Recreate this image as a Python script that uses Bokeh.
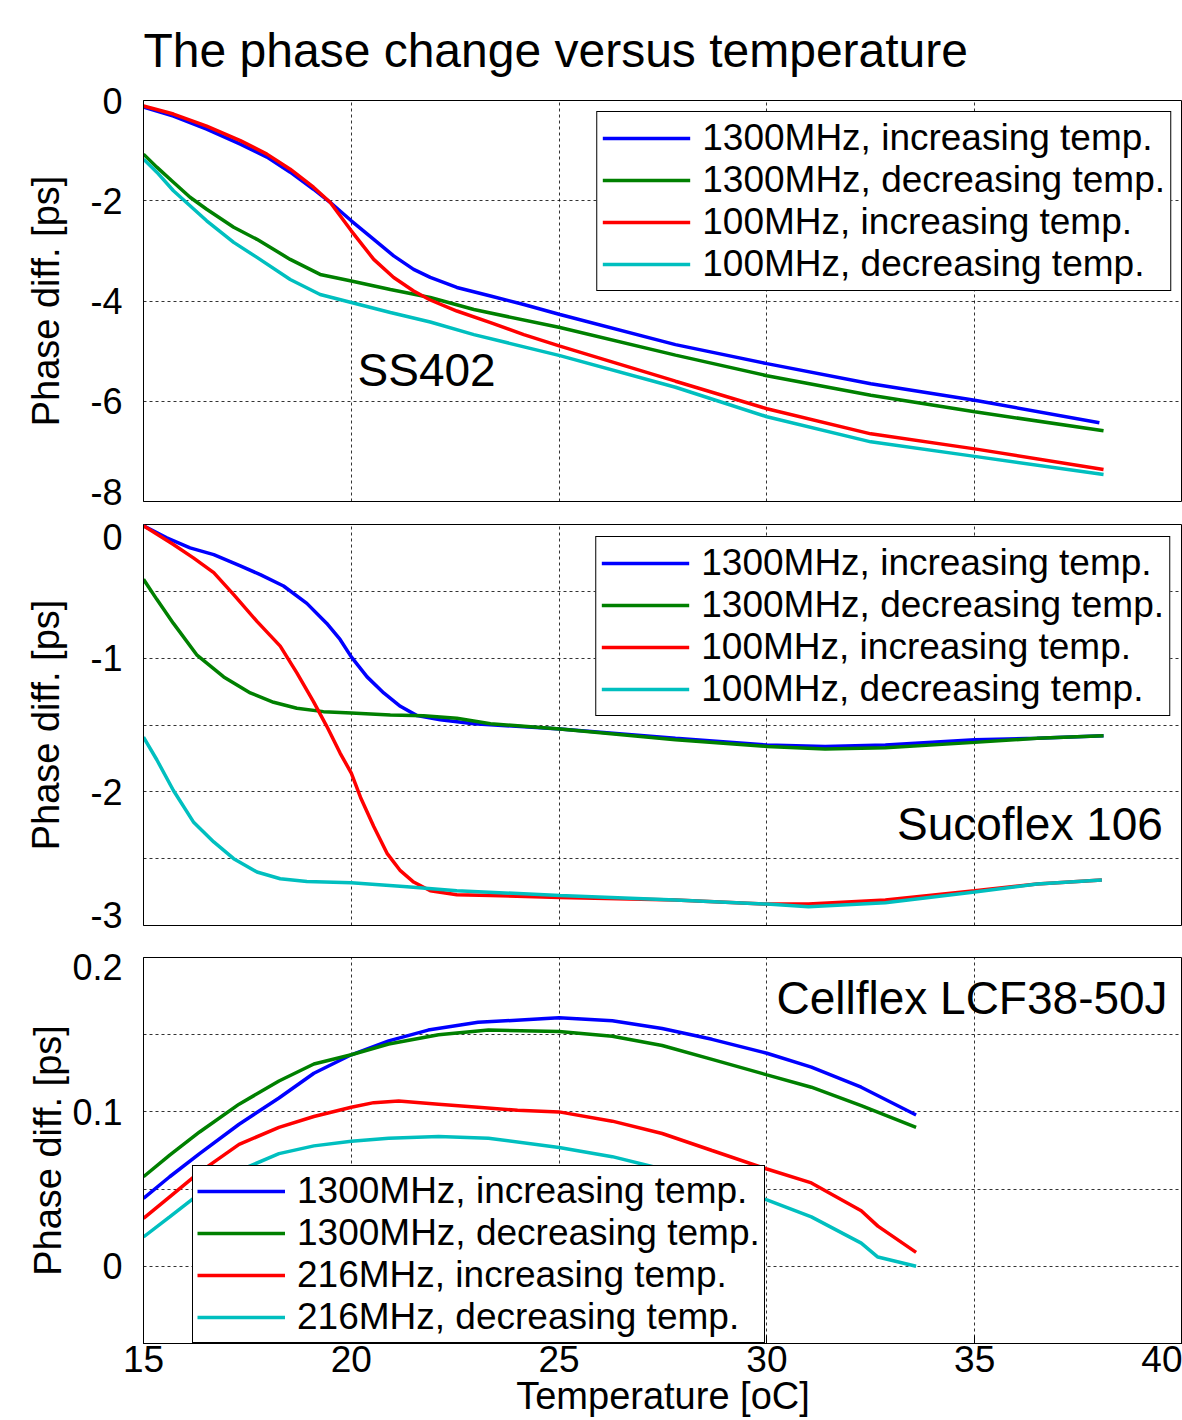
from bokeh.plotting import figure
from bokeh.layouts import column
from bokeh.models import Range1d, FixedTicker, Legend, LegendItem, Label
from bokeh.embed import file_html
from bokeh.resources import INLINE

FONT = "Liberation Sans"

# ---------------- data ----------------
title_text = "The phase change versus temperature"
x_label = "Temperature [oC]"
y_label = "Phase diff. [ps]"
x_ticks = [15, 20, 25, 30, 35, 40]
x_tick_labels = ["15", "20", "25", "30", "35", "40"]

colors = ["#0000ff", "#008000", "#ff0000", "#00bfbf"]

# Panel 1 : SS402
ss_names = ["1300MHz, increasing temp.", "1300MHz, decreasing temp.",
            "100MHz, increasing temp.", "100MHz, decreasing temp."]
ss_yticks = [-8, -6, -4, -2, 0]
ss_ylabels = ["-8", "-6", "-4", "-2", "0"]
ss_inc1300_x = [15.0, 15.72, 16.52, 17.33, 17.97, 18.53, 19.09, 19.49, 20.0, 20.54, 21.02, 21.5,
                21.9, 22.54, 23.35, 24.15, 25.02, 27.8, 30.0, 32.5, 35.0, 38.0]
ss_inc1300_y = [-0.13, -0.31, -0.57, -0.87, -1.13, -1.43, -1.77, -2.03, -2.40, -2.77, -3.10, -3.37,
                -3.53, -3.73, -3.90, -4.07, -4.27, -4.87, -5.25, -5.65, -5.98, -6.43]
ss_dec1300_x = [15.0, 15.32, 15.72, 16.12, 16.52, 17.17, 17.73, 18.53, 19.25, 20.0, 20.94, 21.9,
                22.95, 25.02, 27.8, 30.0, 32.5, 35.0, 38.1]
ss_dec1300_y = [-1.07, -1.33, -1.63, -1.93, -2.17, -2.53, -2.77, -3.17, -3.47, -3.60, -3.77, -3.93,
                -4.17, -4.53, -5.08, -5.49, -5.88, -6.21, -6.59]
ss_inc100_x = [15.0, 15.72, 16.52, 17.33, 17.97, 18.53, 19.09, 19.49, 20.0, 20.54, 21.02, 21.5,
               21.9, 22.54, 23.35, 24.15, 25.02, 27.8, 30.0, 32.5, 35.0, 38.1]
ss_inc100_y = [-0.11, -0.27, -0.51, -0.80, -1.07, -1.37, -1.73, -2.03, -2.60, -3.17, -3.53, -3.80,
               -3.98, -4.20, -4.43, -4.67, -4.90, -5.60, -6.15, -6.65, -6.95, -7.36]
ss_dec100_x = [15.0, 15.32, 15.72, 16.12, 16.52, 17.17, 17.73, 18.53, 19.25, 20.0, 20.94, 21.9,
               22.95, 25.02, 27.8, 30.0, 32.5, 35.0, 38.1]
ss_dec100_y = [-1.17, -1.43, -1.80, -2.10, -2.40, -2.83, -3.13, -3.57, -3.87, -4.03, -4.23, -4.42,
               -4.67, -5.09, -5.72, -6.31, -6.81, -7.10, -7.46]

# Panel 2 : Sucoflex 106
su_names = ss_names
su_yticks = [-3, -2.5, -2, -1.5, -1, -0.5, 0]
su_ylabels = ["-3", "", "-2", "", "-1", "", "0"]
su_inc1300_x = [15.0, 15.56, 16.12, 16.69, 17.33, 17.81, 18.37, 18.93, 19.41, 19.73, 20.0, 20.38,
                20.78, 21.18, 21.58, 22.14, 22.95, 25.02, 27.8, 30.0, 31.4, 32.85, 35.0, 36.5, 38.1]
su_inc1300_y = [-0.01, -0.10, -0.175, -0.225, -0.31, -0.375, -0.46, -0.59, -0.74, -0.86, -0.99, -1.14,
                -1.26, -1.36, -1.43, -1.46, -1.49, -1.53, -1.60, -1.65, -1.66, -1.65, -1.61, -1.60, -1.58]
su_dec1300_x = [15.0, 15.32, 15.72, 16.28, 16.93, 17.57, 18.13, 18.69, 19.33, 20.0, 20.94, 21.74,
                22.54, 23.35, 25.02, 27.8, 30.0, 31.4, 32.85, 35.0, 36.5, 38.1]
su_dec1300_y = [-0.41, -0.56, -0.74, -0.975, -1.14, -1.26, -1.33, -1.375, -1.40, -1.41, -1.425, -1.43,
                -1.45, -1.49, -1.53, -1.61, -1.66, -1.68, -1.67, -1.63, -1.60, -1.58]
su_inc100_x = [15.0, 15.72, 16.2, 16.69, 17.17, 17.73, 18.29, 18.69, 19.09, 19.41, 19.73, 20.0,
               20.22, 20.54, 20.86, 21.18, 21.5, 21.9, 22.54, 23.35, 25.02, 27.8, 30.0, 31.0,
               32.85, 35.0, 36.5, 38.06]
su_inc100_y = [-0.01, -0.15, -0.25, -0.36, -0.525, -0.725, -0.91, -1.11, -1.325, -1.51, -1.71, -1.86,
               -2.04, -2.26, -2.46, -2.59, -2.675, -2.74, -2.77, -2.775, -2.79, -2.81, -2.84, -2.84,
               -2.81, -2.74, -2.69, -2.66]
su_dec100_x = [15.0, 15.32, 15.72, 16.2, 16.69, 17.17, 17.73, 18.29, 18.93, 20.0, 21.34, 22.54,
               25.02, 27.8, 30.0, 31.0, 32.85, 35.0, 36.5, 38.06]
su_dec100_y = [-1.59, -1.76, -1.99, -2.225, -2.375, -2.50, -2.60, -2.65, -2.67, -2.68, -2.71, -2.74,
               -2.775, -2.81, -2.84, -2.86, -2.83, -2.75, -2.69, -2.66]

# Panel 3 : Cellflex LCF38-50J
ce_names = ["1300MHz, increasing temp.", "1300MHz, decreasing temp.",
            "216MHz, increasing temp.", "216MHz, decreasing temp."]
ce_yticks = [-0.05, 0, 0.05, 0.1, 0.15, 0.2]
ce_ylabels = ["", "0", "", "0.1", "", "0.2"]
ce_inc1300_x = [15.0, 15.63, 16.35, 17.3, 18.26, 19.1, 20.0, 20.9, 21.85, 23.05, 25.0, 26.28,
                27.48, 28.68, 30.0, 31.07, 32.27, 33.59]
ce_inc1300_y = [0.044, 0.058, 0.073, 0.092, 0.109, 0.125, 0.137, 0.146, 0.153, 0.158, 0.161, 0.159,
                0.154, 0.147, 0.138, 0.129, 0.116, 0.098]
ce_dec1300_x = [15.0, 15.63, 16.35, 17.3, 18.26, 19.1, 20.0, 20.9, 22.1, 23.3, 25.0, 26.28,
                27.48, 28.68, 30.0, 31.07, 32.27, 33.59]
ce_dec1300_y = [0.058, 0.072, 0.087, 0.105, 0.120, 0.131, 0.137, 0.144, 0.150, 0.153, 0.152, 0.149,
                0.143, 0.134, 0.124, 0.116, 0.104, 0.090]
ce_inc216_x = [15.0, 15.63, 16.35, 17.3, 18.26, 19.1, 20.0, 20.54, 21.14, 22.1, 23.05, 24.0,
               25.0, 26.28, 27.48, 28.68, 30.0, 31.07, 32.27, 32.67, 33.59]
ce_inc216_y = [0.031, 0.045, 0.061, 0.079, 0.090, 0.097, 0.103, 0.106, 0.107, 0.105, 0.103, 0.101,
               0.100, 0.094, 0.086, 0.075, 0.063, 0.054, 0.036, 0.026, 0.009]
ce_dec216_x = [15.0, 15.63, 16.35, 17.3, 18.26, 19.1, 20.0, 20.9, 22.1, 23.3, 25.0, 26.28,
               27.48, 28.68, 30.0, 31.07, 32.27, 32.67, 33.59]
ce_dec216_y = [0.019, 0.032, 0.047, 0.062, 0.073, 0.078, 0.081, 0.083, 0.084, 0.083, 0.077, 0.071,
               0.063, 0.053, 0.043, 0.032, 0.015, 0.006, 0.000]

# ---------------- plotting ----------------
xr = Range1d(15, 40)


def make_panel(height, top, bottom, yrange, yticks, ylabels, nudge, label_standoff):
    """nudge: {tick: pixels} - MATLAB draws the labels of edge ticks shifted inside the box."""
    p = figure(width=1182, height=height, x_range=xr, y_range=Range1d(*yrange),
               output_backend="svg", toolbar_location=None,
               min_border_left=143, min_border_right=0,
               min_border_top=top, min_border_bottom=bottom)
    frame_h = height - top - bottom
    per_px = (yrange[1] - yrange[0]) / frame_h
    label_pos = [t + nudge.get(t, 0) * per_px for t in yticks]
    p.background_fill_color = "white"
    p.border_fill_color = "white"
    p.outline_line_color = "black"
    p.outline_line_alpha = 1.0
    p.outline_line_width = 1
    p.xaxis.ticker = FixedTicker(ticks=x_ticks)
    p.xaxis.major_label_overrides = {t: l for t, l in zip(x_ticks, x_tick_labels)}
    # y axis: labels at (nudged) label positions, grid at the true tick values
    p.yaxis.ticker = FixedTicker(ticks=label_pos)
    p.yaxis.major_label_overrides = {pos: l for pos, l in zip(label_pos, ylabels)}
    p.ygrid.ticker = FixedTicker(ticks=yticks)
    for ax in (p.xaxis, p.yaxis):
        ax.axis_line_color = "black"
        ax.major_tick_out = 0
        ax.minor_tick_in = 0
        ax.minor_tick_out = 0
        ax.major_tick_line_color = "black"
        ax.major_label_text_font = FONT
        ax.major_label_text_color = "black"
        ax.axis_label_text_font = FONT
        ax.axis_label_text_font_size = "38px"
        ax.axis_label_text_font_style = "normal"
        ax.axis_label_text_color = "black"
    p.xaxis.major_tick_in = 8
    p.yaxis.major_tick_in = 0
    p.xaxis.major_label_text_font_size = "37px"
    p.yaxis.major_label_text_font_size = "36px"
    p.yaxis.major_label_standoff = 21
    p.yaxis.axis_label = y_label
    p.yaxis.axis_label_standoff = label_standoff
    for g in (p.xgrid, p.ygrid):
        g.grid_line_color = "black"
        g.grid_line_alpha = 0.8
        g.grid_line_dash = "3 3"
        g.grid_line_width = 1
    return p


def add_lines(p, series, names, loc, margin, padding, line_height=1.2):
    items = []
    for (xs, ys), c, n in zip(series, colors, names):
        r = p.line(xs, ys, line_color=c, line_width=3.5)
        items.append(LegendItem(label=n, renderers=[r]))
    leg = Legend(items=items, location=loc)
    leg.label_text_font = FONT
    leg.label_text_font_size = "37px"
    leg.label_text_color = "black"
    leg.label_text_line_height = line_height
    leg.glyph_width = 88
    leg.glyph_height = 20
    leg.label_standoff = 12
    leg.padding = padding
    leg.spacing = 0
    leg.margin = margin
    leg.border_line_color = "black"
    leg.border_line_width = 1
    leg.border_line_alpha = 1.0
    leg.background_fill_color = "white"
    leg.background_fill_alpha = 1.0
    p.add_layout(leg)


# Panel 1
p1 = make_panel(512, 100, 11, (-8, 0), ss_yticks, ss_ylabels, {-8: 10}, 20)
p1.xaxis.visible = False
p1.title.text = title_text
p1.title.text_font = FONT
p1.title.text_font_size = "48px"
p1.title.text_font_style = "normal"
p1.title.text_color = "black"
p1.title.align = "left"
p1.title.vertical_align = "top"
p1.title.offset = 0
p1.title.standoff = 44
add_lines(p1, [(ss_inc1300_x, ss_inc1300_y), (ss_dec1300_x, ss_dec1300_y),
               (ss_inc100_x, ss_inc100_y), (ss_dec100_x, ss_dec100_y)],
          ss_names, "top_right", 11, 5)
p1.add_layout(Label(x=20.15, y=-5.37, text="SS402", text_font=FONT, text_font_size="46px",
                    text_baseline="middle", text_align="left", text_color="black"))

# Panel 2
p2 = make_panel(427, 12, 14, (-3, 0), su_yticks, su_ylabels, {0: -12, -3: 11}, 20)
p2.xaxis.visible = False
add_lines(p2, [(su_inc1300_x, su_inc1300_y), (su_dec1300_x, su_dec1300_y),
               (su_inc100_x, su_inc100_y), (su_dec100_x, su_dec100_y)],
          su_names, "top_right", 12, 5)
p2.add_layout(Label(x=33.13, y=-2.24, text="Sucoflex 106", text_font=FONT, text_font_size="46px",
                    text_baseline="middle", text_align="left", text_color="black"))

# Panel 3
p3 = make_panel(480, 18, 74, (-0.05, 0.2), ce_yticks, ce_ylabels, {0.2: -10}, 0)
p3.xaxis.axis_label = x_label
p3.xaxis.major_label_standoff = 2
p3.xaxis.axis_label_standoff = 0
add_lines(p3, [(ce_inc1300_x, ce_inc1300_y), (ce_dec1300_x, ce_dec1300_y),
               (ce_inc216_x, ce_inc216_y), (ce_dec216_x, ce_dec216_y)],
          ce_names, (49, 0), 0, 4, line_height=0.85)
p3.add_layout(Label(x=30.23, y=0.174, text="Cellflex LCF38-50J", text_font=FONT, text_font_size="46px",
                    text_baseline="middle", text_align="left", text_color="black"))

layout = column(p1, p2, p3)
open("out.html", "w").write(file_html(layout, INLINE))
